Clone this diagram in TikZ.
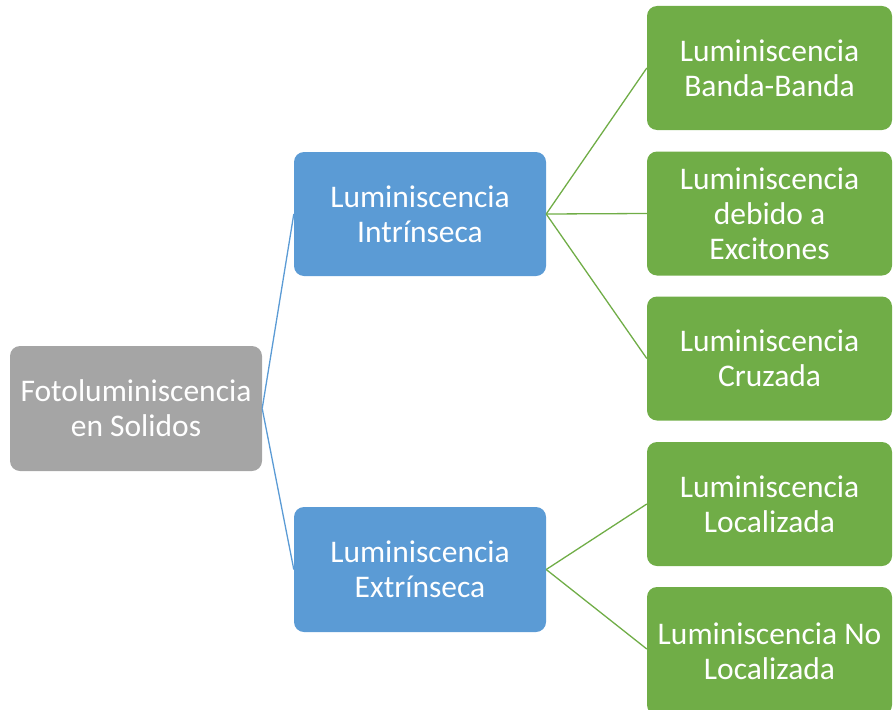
\documentclass[tikz,border=0pt]{standalone}
\usepackage{fontspec}
\setmainfont{Carlito}
\begin{document}
\begin{tikzpicture}[x=1pt,y=-1pt,
  box/.style={rounded corners=10pt, inner sep=0pt, text=white, align=center,
    font=\fontsize{31.5}{35}\selectfont},
  graybox/.style={box, fill=boxgray},
  bluebox/.style={box, fill=boxblue},
  greenbox/.style={box, fill=boxgreen},
  blueline/.style={draw=boxblue, line width=1.3pt},
  greenline/.style={draw=boxgreen, line width=1.3pt}]
\definecolor{boxgray}{HTML}{A5A5A5}
\definecolor{boxblue}{HTML}{5B9BD5}
\definecolor{boxgreen}{HTML}{70AD47}
\useasboundingbox (0,0) rectangle (893,709);
\node[graybox, minimum width=252pt, minimum height=125pt] (root) at (136,408.5) {Fotoluminiscencia\\en Solidos};
\node[bluebox, minimum width=252pt, minimum height=124pt] (intr) at (420,214) {Luminiscencia\\Intrínseca};
\node[bluebox, minimum width=252pt, minimum height=125pt] (extr) at (420,569.5) {Luminiscencia\\Extrínseca};
\node[greenbox, minimum width=245pt, minimum height=124pt] (g1) at (769.5,68) {Luminiscencia\\Banda-Banda};
\node[greenbox, minimum width=245pt, minimum height=124pt] (g2) at (769.5,213.5) {Luminiscencia\\debido a\\Excitones};
\node[greenbox, minimum width=245pt, minimum height=124pt] (g3) at (769.5,358.5) {Luminiscencia\\Cruzada};
\node[greenbox, minimum width=245pt, minimum height=124pt] (g4) at (769.5,504) {Luminiscencia\\Localizada};
\node[greenbox, minimum width=245pt, minimum height=128pt] (g5) at (769.5,651) {Luminiscencia No\\Localizada};
\draw[blueline] (root.east) -- (intr.west);
\draw[blueline] (root.east) -- (extr.west);
\draw[greenline] (intr.east) -- (g1.west);
\draw[greenline] (intr.east) -- (g2.west);
\draw[greenline] (intr.east) -- (g3.west);
\draw[greenline] (extr.east) -- (g4.west);
\draw[greenline] (extr.east) -- ([yshift=2pt]g5.west);
\end{tikzpicture}
\end{document}
